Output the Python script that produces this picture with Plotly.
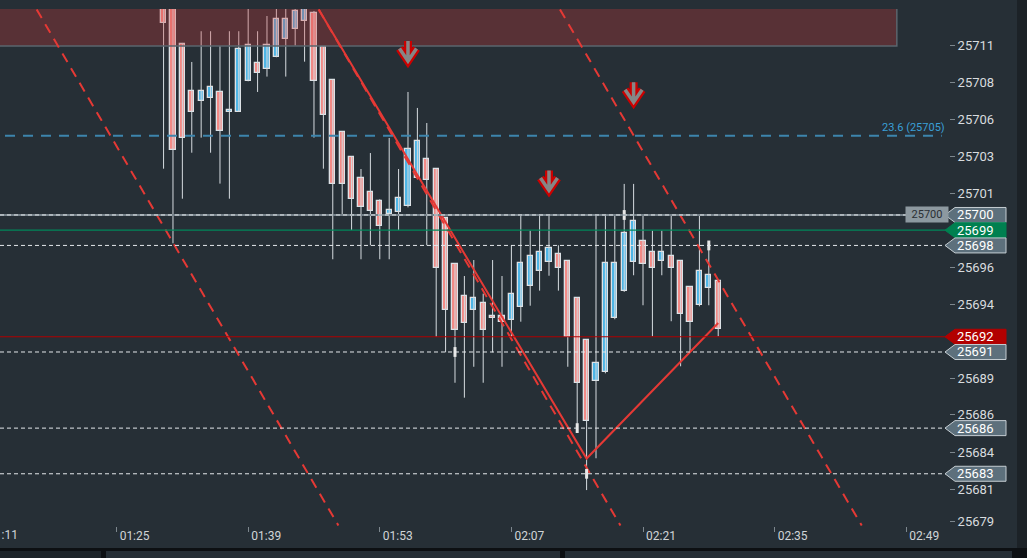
import plotly.graph_objects as go
import pandas as pd

# ---------------- data ----------------
DAY = "2024-01-01 "
times = [t.strftime("%Y-%m-%d %H:%M:%S") for t in pd.date_range(DAY + "01:30", periods=60, freq="1min")]

opens = [25716.0, 25715.0, 25711.21, 25708.13, 25707.47, 25707.71, 25708.06, 25706.75, 25706.79, 25708.78,
         25709.97, 25709.61, 25710.36, 25711.54, 25712.2, 25712.73, 25713.25, 25711.02, 25708.85, 25705.43,
         25703.79, 25702.41, 25701.49, 25700.9, 25700.05, 25700.18, 25700.57, 25702.41, 25703.66, 25703.0,
         25699.78, 25696.76, 25694.68, 25693.78, 25694.2, 25693.34, 25693.34, 25693.12, 25693.94, 25695.32,
         25696.3, 25696.89, 25697.42, 25696.96, 25694.53, 25691.77, 25689.07, 25689.67, 25693.21, 25694.99,
         25696.89, 25698.27, 25697.55, 25696.96, 25697.29, 25696.96, 25695.25, 25694.07, 25695.18, 25695.64]
highs = [25716.0, 25715.5, 25711.3, 25710.05, 25712.07, 25712.07, 25711.1, 25712.07, 25712.07, 25714.5,
         25712.07, 25713.07, 25714.5, 25714.5, 25714.5, 25715.0, 25713.4, 25711.1, 25708.9, 25705.5,
         25703.85, 25703.02, 25704.07, 25701.03, 25705.06, 25703.02, 25708.08, 25707.03, 25706.04, 25703.05,
         25699.85, 25696.8, 25695.99, 25697.04, 25694.83, 25697.04, 25695.99, 25698.01, 25699.93, 25698.97,
         25699.93, 25699.93, 25698.01, 25697.0, 25694.6, 25691.8, 25699.95, 25699.95, 25699.95, 25702.04,
         25702.04, 25699.95, 25698.97, 25698.97, 25699.95, 25697.0, 25695.3, 25699.95, 25698.18, 25695.7]
lows = [25703.04, 25698.14, 25701.07, 25704.09, 25705.08, 25704.09, 25702.06, 25701.07, 25706.79, 25708.78,
        25708.08, 25709.09, 25710.36, 25709.09, 25711.12, 25710.07, 25705.08, 25703.04, 25697.09, 25700.0,
        25699.01, 25697.09, 25698.01, 25697.09, 25697.09, 25699.01, 25700.5, 25702.4, 25698.01, 25692.0,
        25690.98, 25688.98, 25688.0, 25690.03, 25688.98, 25690.98, 25690.03, 25692.0, 25692.99, 25694.04,
        25695.03, 25696.01, 25695.03, 25690.03, 25686.03, 25681.93, 25684.02, 25689.6, 25693.15, 25694.95,
        25696.04, 25694.07, 25692.03, 25696.04, 25693.02, 25690.06, 25691.04, 25694.0, 25694.07, 25692.03]
closes = [25712.59, 25704.25, 25705.04, 25706.79, 25708.13, 25708.39, 25705.54, 25706.88, 25710.89, 25711.15,
          25709.31, 25711.15, 25712.86, 25712.86, 25713.38, 25714.5, 25708.78, 25706.55, 25702.02, 25702.02,
          25701.03, 25700.51, 25700.24, 25699.26, 25700.31, 25701.1, 25704.32, 25704.84, 25702.28, 25696.5,
          25693.74, 25692.46, 25692.92, 25694.55, 25692.46, 25693.21, 25692.95, 25694.79, 25696.83, 25697.29,
          25697.55, 25697.81, 25696.5, 25692.0, 25688.94, 25686.45, 25690.28, 25696.83, 25696.83, 25698.8,
          25699.59, 25696.76, 25696.5, 25697.55, 25696.5, 25693.48, 25692.95, 25696.3, 25696.04, 25692.49]

# y-axis ticks (labels hidden behind price boxes are left out)
y_tickvals = [25711.12, 25708.69, 25706.26, 25703.83, 25701.4, 25696.54, 25694.11,
              25689.25, 25686.9, 25684.39, 25681.96, 25679.85]
y_ticktext = ["25711", "25708", "25706", "25703", "25701", "25696", "25694",
              "25689", "25686", "25684", "25681", "25679"]

# price levels
dashed_levels = [25700, 25698, 25691, 25686, 25683]
green_level = 25699
red_level = 25692
label_prices = [25700, 25699, 25698, 25692, 25691, 25686, 25683]
label_kinds = ["grey", "green", "grey", "red", "grey", "grey", "grey"]

# fibonacci level
fib_price = 25705.2
fib_text = "23.6 (25705)"
fib_start, fib_end = DAY + "01:13:08", DAY + "02:52:47"

# resistance zone
zone_start, zone_end = DAY + "01:00:00", DAY + "02:48:00"
zone_low, zone_high = 25711.1, 25716.0

# zigzag
zig_times = [DAY + "01:46:30", DAY + "02:15:00", DAY + "02:29:00"]
zig_prices = [25713.5, 25684.0, 25692.9]

# parallel channel (dashed)
chan_top_price, chan_bottom_price = 25713.5, 25679.6
chan_top_times = [DAY + "01:16:30", DAY + "01:46:30", DAY + "02:12:10"]
chan_bottom_times = [DAY + "01:48:36", DAY + "02:18:36", DAY + "02:44:16"]

# sell signals (arrows)
sig_times = [DAY + "01:56:00", DAY + "02:20:00", DAY + "02:11:00"]
sig_prices = [25710.7, 25708.0, 25702.2]

# level origin markers
mark_times = [DAY + "02:01", DAY + "02:14", DAY + "02:15", DAY + "02:19", DAY + "02:28"]
mark_prices = [25691, 25686, 25683, 25700, 25698]

# axes ranges
x_range = [DAY + "01:12:36", DAY + "02:53:33"]
y_range = [25679.57, 25713.53]
x_tick0 = DAY + "01:25"
x_dtick_min = 14
cut_label = "01:11"

# ---------------- style ----------------
BG = "#262f36"
BULL = "#4db5e6"
BEAR = "#f28a86"
EDGE = "#dde2e6"
RED = "#e53935"
FONT = "Roboto"

W, H = 1027, 558
PL, PR, PT, PB = 0, 949, 9, 526   # plot area in px


def px_x(px):
    return (px - PL) / (PR - PL)


def px_y(py):
    return (PB - py) / (PB - PT)


fig = go.Figure()

# wicks
wx, wy = [], []
for t, lo, hi in zip(times, lows, highs):
    wx += [t, t, None]
    wy += [lo, hi, None]
fig.add_trace(go.Scatter(x=wx, y=wy, mode="lines", line=dict(color="#d6dce0", width=1),
                         hoverinfo="skip", showlegend=False))

# bodies
base = [min(o, c) for o, c in zip(opens, closes)]
height = [max(abs(c - o), 0.1) for o, c in zip(opens, closes)]
colors = [BULL if c >= o else BEAR for o, c in zip(opens, closes)]
fig.add_trace(go.Bar(x=times, y=height, base=base, width=34000,
                     marker=dict(color=colors, line=dict(color=EDGE, width=1.3)),
                     hoverinfo="skip", showlegend=False))

# zone
fig.add_trace(go.Scatter(x=[zone_start, zone_end, zone_end, zone_start, zone_start],
                         y=[zone_low, zone_low, zone_high, zone_high, zone_low],
                         mode="lines", fill="toself", fillcolor="rgba(205,57,57,0.30)",
                         line=dict(color="#5a656d", width=1.5), hoverinfo="skip", showlegend=False))

# channel dashed lines
for t0, t1 in zip(chan_top_times, chan_bottom_times):
    fig.add_trace(go.Scatter(x=[t0, t1], y=[chan_top_price, chan_bottom_price], mode="lines",
                             line=dict(color=RED, width=2, dash="10px,7px"),
                             hoverinfo="skip", showlegend=False))

# zigzag
fig.add_trace(go.Scatter(x=zig_times, y=zig_prices, mode="lines", line=dict(color=RED, width=2),
                         hoverinfo="skip", showlegend=False))

# level markers
fig.add_trace(go.Scatter(x=mark_times, y=mark_prices, mode="markers",
                         marker=dict(symbol="line-ns", size=7, line=dict(width=3, color="#e8e8e8")),
                         hoverinfo="skip", showlegend=False))

shapes = []
# horizontal levels
shapes.append(dict(type="line", xref="paper", x0=0, x1=1, yref="y", y0=25700, y1=25700,
                   line=dict(color="#76828a", width=2), layer="above"))
for lv in dashed_levels:
    shapes.append(dict(type="line", xref="paper", x0=0, x1=1, yref="y", y0=lv, y1=lv,
                       line=dict(color="#e4e8eb", width=1, dash="4px,3px"), layer="above"))
shapes.append(dict(type="line", xref="paper", x0=0, x1=1, yref="y", y0=green_level, y1=green_level,
                   line=dict(color="#00875a", width=1.3), layer="above"))
shapes.append(dict(type="line", xref="paper", x0=0, x1=1, yref="y", y0=red_level, y1=red_level,
                   line=dict(color="#b00000", width=1), layer="above"))
shapes.append(dict(type="line", xref="x", x0=fib_start, x1=fib_end, yref="y", y0=fib_price, y1=fib_price,
                   line=dict(color="#3d85ad", width=2, dash="10px,8px"), layer="above"))

# arrows: thick red outline with a grey core (outlined down arrow)
arrow_path = "M0,11 L0,-8.5 M-8.5,3.5 L0,-9 L8.5,3.5"
for t, p in zip(sig_times, sig_prices):
    for col, lw in (("#cc0000", 8), ("#868686", 3.5)):
        shapes.append(dict(type="path", xref="x", yref="y", xsizemode="pixel", ysizemode="pixel",
                           xanchor=t, yanchor=p, path=arrow_path, fillcolor="rgba(0,0,0,0)",
                           line=dict(color=col, width=lw), layer="above"))

# right price labels
kind_fill = {"grey": "#5d707c", "green": "#008050", "red": "#b20000"}
kind_line = {"grey": "#c5cdd2", "green": "#008050", "red": "#b20000"}
label_path = "M-4,0 L6,7.5 L57,7.5 L57,-7.5 L6,-7.5 Z"
for p, k in zip(label_prices, label_kinds):
    shapes.append(dict(type="path", xref="paper", yref="y", xsizemode="pixel", ysizemode="pixel",
                       xanchor=1, yanchor=p, path=label_path,
                       fillcolor=kind_fill[k], line=dict(color=kind_line[k], width=1), layer="above"))

# frame decorations
shapes.append(dict(type="rect", xref="paper", yref="paper", x0=px_x(1017), x1=px_x(1030),
                   y0=px_y(560), y1=px_y(-2), fillcolor="#1c2227", line=dict(width=0), layer="above"))
shapes.append(dict(type="rect", xref="paper", yref="paper", x0=px_x(-2), x1=px_x(1030),
                   y0=px_y(560), y1=px_y(548), fillcolor="#0d1013", line=dict(width=0), layer="above"))
shapes.append(dict(type="rect", xref="paper", yref="paper", x0=px_x(-2), x1=px_x(101),
                   y0=px_y(560), y1=px_y(551), fillcolor="#1d2429", line=dict(width=0), layer="above"))
shapes.append(dict(type="rect", xref="paper", yref="paper", x0=px_x(106), x1=px_x(560),
                   y0=px_y(560), y1=px_y(551), fillcolor=BG, line=dict(width=0), layer="above"))
shapes.append(dict(type="rect", xref="paper", yref="paper", x0=px_x(565), x1=px_x(1012),
                   y0=px_y(560), y1=px_y(551), fillcolor=BG, line=dict(width=0), layer="above"))

annotations = []
for p, k in zip(label_prices, label_kinds):
    annotations.append(dict(xref="paper", x=1, xanchor="left", xshift=6, yref="y", y=p,
                            yanchor="middle", text=str(p), showarrow=False,
                            font=dict(family=FONT, size=13, color="#ffffff")))
annotations.append(dict(xref="paper", x=1, xanchor="right", xshift=0, yref="y", y=25700,
                        yanchor="middle", text="25700", showarrow=False, bgcolor="#8d99a0",
                        width=40, height=13, font=dict(family=FONT, size=11, color="#2b3035")))
annotations.append(dict(xref="paper", x=1, xanchor="right", xshift=-2, yref="y", y=fib_price,
                        yanchor="bottom", yshift=0, text=fib_text, showarrow=False,
                        font=dict(family=FONT, size=11, color="#3a9fd6")))

# partially visible first time label
t_cut = pd.Timestamp(DAY + cut_label)
xr0, xr1 = pd.Timestamp(x_range[0]), pd.Timestamp(x_range[1])
annotations.append(dict(xref="paper", x=(t_cut - xr0) / (xr1 - xr0), xanchor="left", xshift=1,
                        yref="paper", y=px_y(535), yanchor="middle", text=cut_label, showarrow=False,
                        font=dict(family=FONT, size=12, color="#d0d4d7")))

fig.update_layout(
    width=W, height=H,
    margin=dict(l=PL, r=W - PR, t=PT, b=H - PB, pad=0),
    paper_bgcolor=BG, plot_bgcolor=BG,
    showlegend=False, bargap=0,
    shapes=shapes, annotations=annotations,
    xaxis=dict(type="date", range=x_range, tick0=x_tick0, dtick=x_dtick_min * 60 * 1000,
               tickformat="%H:%M", ticks="outside", ticklen=5, tickcolor="#7d878e", tickwidth=1,
               tickfont=dict(family=FONT, size=12, color="#d0d4d7"), ticklabelshift=18,
               ticklabelstandoff=-6,
               showgrid=False, zeroline=False, showline=False, fixedrange=True),
    yaxis=dict(side="right", range=y_range, tickvals=y_tickvals, ticktext=y_ticktext,
               ticks="outside", ticklen=5, tickcolor="#7d878e",
               tickfont=dict(family=FONT, size=13, color="#d8dcdf"),
               showgrid=False, zeroline=False, showline=False, fixedrange=True),
)

fig.write_html("out.html", config={"displayModeBar": False},
               post_script="document.body.style.margin='0';document.body.style.padding='0';")
